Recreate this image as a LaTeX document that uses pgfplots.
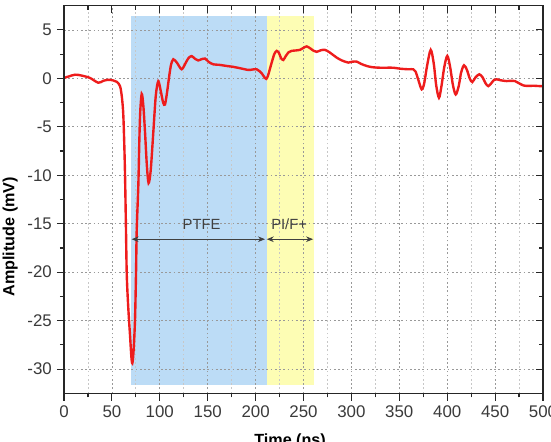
\documentclass[border=0pt]{standalone}
\usepackage{fontspec}
\setmainfont{Liberation Sans}
\usepackage{pgfplots}
\pgfplotsset{compat=1.18}
\usetikzlibrary{arrows.meta}
\definecolor{bluesh}{HTML}{BCDCF6}
\definecolor{yelsh}{HTML}{FDFDB4}
\definecolor{curve}{HTML}{EE1C1C}
\definecolor{tickc}{HTML}{3A3A3A}

\begin{document}
\begin{tikzpicture}
\begin{axis}[name=main, set layers, scale only axis,
  width=11.975cm, height=9.69cm,
  xmin=0, xmax=500, ymin=-32.5, ymax=7.5,
  xtick={0,50,...,500}, ytick={-30,-25,...,5},
  minor x tick num=1, minor y tick num=1,
  xtick pos=bottom, ytick pos=left, tick align=outside,
  major tick length=0.18cm, minor tick length=0.1cm,
  xmajorgrids, ymajorgrids, xminorgrids,
  major grid style={black!40, line width=0.5pt, dash pattern=on 1.2pt off 1.8pt},
  minor grid style={black!22, line width=0.5pt, dash pattern=on 1.2pt off 1.8pt},
  tick label style={font=\fontsize{12}{14}\selectfont, text=tickc},
  /pgf/number format/assume math mode=true,
  axis line style={line width=1pt, black!85},
  every tick/.style={black!85, line width=0.8pt},
  xlabel={Time (ns)}, ylabel={Amplitude (mV)},
  label style={font=\bfseries\fontsize{11.5}{13}\selectfont},
  xlabel style={at={(ticklabel cs:0.472)}, anchor=north, yshift=-0.16cm},
  ylabel style={at={(ticklabel cs:0.404)}},
]
\addplot[fill=bluesh, draw=none, on layer=axis background] coordinates {(70,-31.6) (70,6.4) (212,6.4) (212,-31.6)} -- cycle;
\addplot[fill=yelsh, draw=none, on layer=axis background] coordinates {(212,-31.6) (212,6.4) (261,6.4) (261,-31.6)} -- cycle;

\addplot[curve, line width=1.7pt, smooth, tension=0.5] coordinates {
(0,0.05) (5,0.2) (11.5,0.38) (18,0.3) (27,0.05) (35.8,-0.45) (41,-0.25) (46,-0.15) (51,-0.2) (55,-0.35)
(58.5,-0.8) (60.5,-2) (62,-4) (63.5,-9) (64.6,-15) (65.5,-20.2) (67,-23.5) (68.9,-26.5) (70.3,-28.7) (71.3,-29.4)
(72.5,-28.3) (74.1,-25) (75.2,-20) (75.9,-15.7) (77.6,-11) (78.5,-7) (79.5,-3.6) (81.1,-1.6) (82.8,-2.8) (84.6,-5.6)
(86.5,-9) (88.3,-10.8) (90.5,-9.5) (93.2,-5.6) (95.8,-1.8) (98.4,-0.3) (101,-1.3) (103.5,-2.5) (105.4,-2.7) (107.5,-1.5)
(108.9,-0.45) (111.5,1.3) (114.1,1.97) (118,1.6) (122.8,0.94) (127,1.6) (130,2.1) (133.3,2.3) (137,2.0) (140.2,1.85)
(144,2.0) (147.2,2.05) (151,1.7) (155.9,1.45) (162,1.4) (169.8,1.28) (176,1.2) (183.7,1.05) (192.4,0.87) (197,0.92)
(201.1,0.94) (204,0.75) (206.4,0.52) (209,0.15) (211.2,-0.05) (213,0.3) (215,1.0) (216.8,1.63) (219.5,2.5) (222,2.84)
(224.5,2.6) (226.5,2.1) (228.9,1.9) (231.5,2.3) (234.5,2.7) (237.7,2.84) (242,2.88) (246.3,2.94) (250,3.15) (253.3,3.3)
(257,3.1) (260.5,2.85) (263.8,2.74) (268,2.9) (272.4,2.94) (277,2.7) (284.6,2.15) (290,1.85) (296.8,1.63) (301,1.72)
(305.5,1.73) (310,1.5) (316,1.28) (322,1.15) (329.9,1.1) (336,1.1) (343.7,1.1) (350.7,1.0) (359.4,0.94) (364.6,0.94)
(367,0.7) (370,-0.2) (373.4,-1.14) (376,-0.5) (379,1.3) (382.8,2.94) (386,1.5) (388.5,-0.7) (391.4,-2.0) (394,-0.8)
(397,1.2) (400.1,2.32) (403,1.2) (406,-0.7) (408.9,-1.66) (412,-0.8) (414.5,0.6) (417.5,1.35) (420.5,0.9) (423.5,0.0)
(426.2,-0.38) (429.5,0.1) (433.5,0.42) (437,0.1) (440,-0.5) (442.9,-0.8) (446,-0.5) (449,-0.15) (451.7,-0.1) (456,-0.2)
(462.1,-0.28) (466,-0.25) (470.8,-0.28) (474,-0.45) (479.5,-0.73) (485,-0.78) (490,-0.76) (496.9,-0.8) (500,-0.8)
};

\addplot[draw=black!75, line width=0.6pt, {Stealth[length=5pt,width=4pt]}-{Stealth[length=5pt,width=4pt]}] coordinates {(70.6,-16.6) (209.8,-16.6)};
\addplot[draw=black!75, line width=0.6pt, {Stealth[length=5pt,width=4pt]}-{Stealth[length=5pt,width=4pt]}] coordinates {(211.6,-16.6) (260,-16.6)};
\node[font=\fontsize{10.5}{12}\selectfont, text=black!75] at (axis cs:143.6,-15.1) {PTFE};
\node[font=\fontsize{10.5}{12}\selectfont, text=black!75] at (axis cs:235,-15.1) {PI/F+};
\end{axis}

\begin{axis}[scale only axis,
  width=11.975cm, height=9.69cm,
  xmin=0, xmax=500, ymin=-32.5, ymax=7.5,
  xtick={0,50,...,500}, ytick={-30,-25,...,5},
  minor x tick num=1, minor y tick num=1,
  xtick pos=right, ytick pos=right, tick align=inside,
  major tick length=0.18cm, minor tick length=0.1cm,
  xticklabels={}, yticklabels={},
  axis line style={line width=1pt, black!85},
  every tick/.style={black!85, line width=0.8pt},
]
\end{axis}

\pgfresetboundingbox
\path[use as bounding box] ([xshift=-1.6cm,yshift=-1.1925cm]main.south west) rectangle ++(13.775cm,11.025cm);
\end{tikzpicture}
\end{document}
